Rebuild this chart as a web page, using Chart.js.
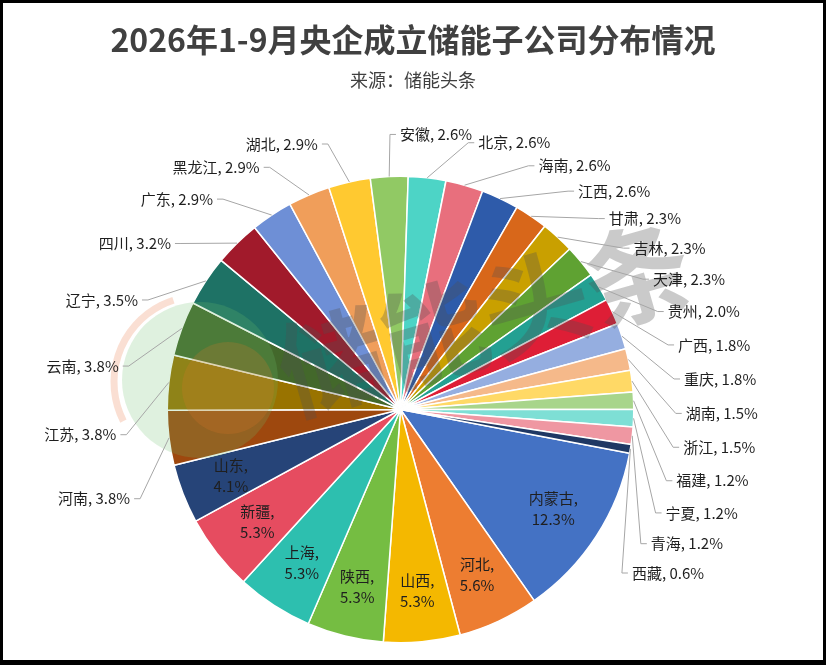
<!DOCTYPE html>
<html lang="zh">
<head>
  <meta charset="UTF-8">
  <title>2026年1-9月央企成立储能子公司分布情况</title>
  <script src="https://cdn.jsdelivr.net/npm/chart.js"></script>
  <style>
    body { margin: 0; background: #fff; }
    #wrap { width: 826px; height: 665px; }
  </style>
</head>
<body>
<div id="wrap"><canvas id="pieChart" width="826" height="665"></canvas></div>
<script>
  // data (share of new subsidiaries, %)
  const provinces = ['内蒙古', '河北', '山西', '陕西', '上海', '新疆', '山东', '河南', '江苏', '云南',
    '辽宁', '四川', '广东', '黑龙江', '湖北', '安徽', '北京', '海南', '江西', '甘肃',
    '吉林', '天津', '贵州', '广西', '重庆', '湖南', '浙江', '福建', '宁夏', '青海', '西藏'];
  const shares = [12.3, 5.6, 5.3, 5.3, 5.3, 5.3, 4.1, 3.8, 3.8, 3.8,
    3.5, 3.2, 2.9, 2.9, 2.9, 2.6, 2.6, 2.6, 2.6, 2.3,
    2.3, 2.3, 2.0, 1.8, 1.8, 1.5, 1.5, 1.2, 1.2, 1.2, 0.6];
  const sliceColors = ['#4472C4', '#ED7D31', '#F4B800', '#75BD42', '#2DBFAF', '#E64C60', '#264478', '#9E480E', '#997300', '#43682B',
    '#1E7265', '#A11A2B', '#6E8FD6', '#F09E5A', '#FFC930', '#91C964', '#4DD4C6', '#E86F7D', '#2E5BAA', '#D8671A',
    '#C9A000', '#5FA232', '#23A092', '#DE1E36', '#95AEE0', '#F5B98A', '#FFD966', '#A8D58B', '#7EDFD5', '#EF97A2', '#1F3864'];

  const chartTitle = '2026年1-9月央企成立储能子公司分布情况';
  const chartSource = '来源：储能头条';
  const insideMin = 4.0;   // slices this big get their label inside
  const labelFont = '15px "Noto Sans CJK SC", "Noto Sans", sans-serif';

  // faint "储能头条" watermark + logo like the source image
  function drawWatermark(ctx) {
    ctx.save();
    ctx.fillStyle = 'rgba(110,190,110,0.22)';
    ctx.beginPath(); ctx.arc(200, 380, 78, 0, Math.PI * 2); ctx.fill();
    ctx.fillStyle = 'rgba(225,120,40,0.22)';
    ctx.beginPath(); ctx.arc(228, 388, 46, 0, Math.PI * 2); ctx.fill();
    ctx.strokeStyle = 'rgba(240,150,110,0.3)';
    ctx.lineWidth = 7;
    ctx.beginPath(); ctx.arc(200, 382, 86, Math.PI * 0.85, Math.PI * 1.4); ctx.stroke();

    ctx.translate(485, 318);
    ctx.rotate(-16 * Math.PI / 180);
    ctx.font = 'bold 106px "Noto Sans CJK SC", sans-serif';
    ctx.fillStyle = 'rgba(80,80,80,0.3)';
    ctx.textAlign = 'center';
    ctx.textBaseline = 'middle';
    ctx.fillText('储能头条', 0, 0);
    ctx.restore();
  }

  const sliceLabels = {
    id: 'sliceLabels',
    afterDatasetsDraw(chart) {
      const ctx = chart.ctx;
      const arcs = chart.getDatasetMeta(0).data;
      drawWatermark(ctx);

      ctx.save();
      ctx.font = labelFont;
      ctx.fillStyle = '#1f1f1f';
      ctx.textBaseline = 'middle';

      const outer = [];
      let cx = 0, cy = 0, r = 0;
      arcs.forEach((arc, i) => {
        const p = arc.getProps(['x', 'y', 'startAngle', 'endAngle', 'outerRadius'], true);
        cx = p.x; cy = p.y; r = p.outerRadius;
        const mid = (p.startAngle + p.endAngle) / 2;
        const pct = shares[i].toFixed(1) + '%';
        if (shares[i] >= insideMin) {
          const lx = cx + r * 0.78 * Math.cos(mid);
          const ly = cy + r * 0.78 * Math.sin(mid);
          ctx.textAlign = 'center';
          ctx.fillText(provinces[i] + ',', lx, ly - 10);
          ctx.fillText(pct, lx, ly + 11);
        } else {
          const text = provinces[i] + ', ' + pct;
          const right = Math.cos(mid) >= -0.07;
          // labels hang a little downward, more so at the sides
          const t = mid + (right ? 1 : -1) * (12 * Math.PI / 180) * Math.abs(Math.cos(mid));
          outer.push({ mid, t, text, w: ctx.measureText(text).width, right });
        }
      });

      const R = r + 42;
      const box = o => {
        const px = cx + R * Math.cos(o.t), py = cy + R * Math.sin(o.t);
        const x0 = o.right ? px + 10 : px - 10 - o.w;
        return { px, py, x0, x1: x0 + o.w, y0: py - 9, y1: py + 9 };
      };
      const hit = (a, b, padY) => a.x0 < b.x1 + 6 && b.x0 < a.x1 + 6 && a.y0 < b.y1 + padY && b.y0 < a.y1 + padY;

      // cascade from the top down each side: a label slides along the circle
      // until it clears the ones already placed above it
      const rightSide = outer.filter(o => o.right);
      const leftSide = outer.filter(o => !o.right).reverse();
      [[rightSide, 1], [leftSide, -1]].forEach(([list, dir]) => {
        list.forEach((o, i) => {
          const placed = list.slice(Math.max(0, i - 3), i);
          for (let k = 0; k < 3000; k++) {
            const b = box(o);
            const c = Math.cos(o.t);
            const padY = 2 + 14 * c * c;
            if (!placed.some(p => hit(box(p), b, padY))) break;
            o.t += dir * 0.002;
          }
        });
      });

      outer.forEach(o => {
        const b = box(o);
        const ex = cx + r * Math.cos(o.mid), ey = cy + r * Math.sin(o.mid);
        const stub = o.right ? b.px + 6 : b.px - 6;
        ctx.strokeStyle = '#a6a6a6';
        ctx.lineWidth = 1;
        ctx.beginPath();
        ctx.moveTo(ex, ey);
        ctx.lineTo(b.px, b.py);
        ctx.lineTo(stub, b.py);
        ctx.stroke();
        ctx.textAlign = 'left';
        ctx.fillText(o.text, b.x0, b.py);
      });
      ctx.restore();
    },
    afterDraw(chart) {
      const ctx = chart.ctx;
      ctx.save();
      ctx.fillStyle = '#404040';
      ctx.textAlign = 'center';
      ctx.textBaseline = 'middle';
      ctx.font = 'bold 32px "Noto Sans CJK SC", sans-serif';
      ctx.fillText(chartTitle, 413, 40);
      ctx.font = '18px "Noto Sans CJK SC", sans-serif';
      ctx.fillText(chartSource, 413, 80);
      // black frame
      ctx.fillStyle = '#000';
      ctx.fillRect(0, 0, 826, 3);
      ctx.fillRect(0, 0, 3, 665);
      ctx.fillRect(823, 0, 3, 665);
      ctx.fillRect(0, 660, 826, 5);
      ctx.restore();
    }
  };

  new Chart(document.getElementById('pieChart'), {
    type: 'pie',
    data: {
      labels: provinces,
      datasets: [{
        data: shares,
        backgroundColor: sliceColors,
        borderColor: '#ffffff',
        borderWidth: 1.5
      }]
    },
    options: {
      responsive: false,
      devicePixelRatio: 1,
      animation: false,
      rotation: 100.8,
      layout: { padding: { left: 166.5, right: 191.5, top: 175.5, bottom: 21.5 } },
      plugins: {
        legend: { display: false },
        tooltip: { enabled: false }
      }
    },
    plugins: [sliceLabels]
  });
</script>
</body>
</html>
